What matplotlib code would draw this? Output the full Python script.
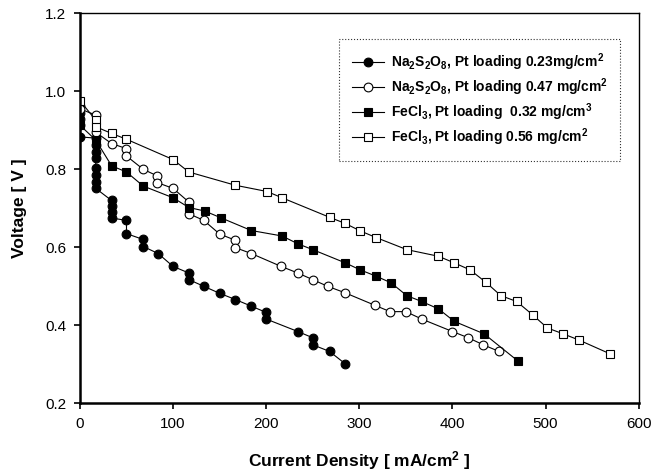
import matplotlib
matplotlib.use('Agg')
import matplotlib.pyplot as plt
from matplotlib.ticker import FormatStrFormatter

plt.rcParams['font.family'] = ['Liberation Sans', 'DejaVu Sans']
plt.rcParams['mathtext.fontset'] = 'custom'
plt.rcParams['mathtext.rm'] = 'Liberation Sans:bold'
plt.rcParams['mathtext.it'] = 'Liberation Sans:bold'
plt.rcParams['mathtext.bf'] = 'Liberation Sans:bold'

# Na2S2O8, Pt 0.23 mg/cm2 (filled circles)
na_023_x = [0, 0, 0, 0, 0, 17, 17, 17, 17, 17, 17, 17, 17, 34, 34, 34, 34,
            50, 50, 68, 68, 84, 100, 117, 117, 133, 150, 167, 184, 200, 200,
            234, 250, 250, 268, 285]
na_023_y = [0.962, 0.945, 0.93, 0.913, 0.883, 0.88, 0.862, 0.844, 0.828,
            0.803, 0.785, 0.767, 0.751, 0.72, 0.705, 0.69, 0.675,
            0.669, 0.635, 0.62, 0.602, 0.584, 0.551, 0.534, 0.517, 0.50,
            0.482, 0.466, 0.449, 0.433, 0.416, 0.384, 0.368, 0.35, 0.333, 0.301]

# Na2S2O8, Pt 0.47 mg/cm2 (open circles)
na_047_x = [0, 17, 17, 34, 50, 50, 68, 83, 83, 100, 117, 117, 133, 150, 167,
            167, 184, 216, 234, 250, 266, 285, 317, 333, 350, 367, 400, 417,
            433, 450]
na_047_y = [0.955, 0.939, 0.895, 0.866, 0.853, 0.834, 0.80, 0.783, 0.766,
            0.751, 0.716, 0.686, 0.669, 0.634, 0.618, 0.599, 0.584, 0.551,
            0.534, 0.517, 0.50, 0.483, 0.451, 0.435, 0.435, 0.416, 0.384,
            0.368, 0.35, 0.333]

# FeCl3, Pt 0.32 mg/cm3 (filled squares)
fe_032_x = [0, 17, 34, 50, 68, 100, 117, 134, 151, 184, 217, 234, 250, 285,
            301, 318, 334, 351, 367, 385, 402, 434, 470]
fe_032_y = [0.913, 0.875, 0.809, 0.793, 0.757, 0.727, 0.702, 0.693, 0.676,
            0.643, 0.629, 0.609, 0.594, 0.56, 0.542, 0.526, 0.509, 0.476,
            0.461, 0.442, 0.41, 0.378, 0.309]

# FeCl3, Pt 0.56 mg/cm2 (open squares)
fe_056_x = [0, 17, 17, 34, 50, 100, 117, 167, 201, 217, 268, 285, 301, 318,
            351, 385, 402, 419, 436, 452, 469, 486, 502, 519, 536, 569]
fe_056_y = [0.976, 0.926, 0.909, 0.892, 0.877, 0.825, 0.793, 0.759, 0.743,
            0.727, 0.677, 0.661, 0.642, 0.625, 0.594, 0.577, 0.56, 0.542,
            0.51, 0.476, 0.461, 0.427, 0.393, 0.378, 0.362, 0.327]

labels = [
    'Na$_2$S$_2$O$_8$, Pt loading 0.23mg/cm$^2$',
    'Na$_2$S$_2$O$_8$, Pt loading 0.47 mg/cm$^2$',
    'FeCl$_3$, Pt loading  0.32 mg/cm$^3$',
    'FeCl$_3$, Pt loading 0.56 mg/cm$^2$',
]

fig = plt.figure(figsize=(6.66, 4.75), dpi=100)
ax = fig.add_axes([0.120, 0.151, 0.839, 0.821])

common = dict(color='black', linewidth=0.8, markersize=6.3,
              markeredgecolor='black', markeredgewidth=0.8)
ax.plot(na_023_x, na_023_y, marker='o', markerfacecolor='black', label=labels[0], **common)
ax.plot(na_047_x, na_047_y, marker='o', markerfacecolor='white', label=labels[1], **common)
ax.plot(fe_032_x, fe_032_y, marker='s', markerfacecolor='black', label=labels[2], **common)
ax.plot(fe_056_x, fe_056_y, marker='s', markerfacecolor='white', label=labels[3], **common)

ax.set_xlim(0, 600)
ax.set_ylim(0.2, 1.2)
ax.set_xticks([0, 100, 200, 300, 400, 500, 600])
ax.set_yticks([0.2, 0.4, 0.6, 0.8, 1.0, 1.2])
ax.yaxis.set_major_formatter(FormatStrFormatter('%.1f'))
ax.tick_params(direction='out', length=4, width=1.2, labelsize=11,
               top=False, right=False, pad=6)
for side in ['left', 'bottom']:
    ax.spines[side].set_linewidth(1.8)
for side in ['top', 'right']:
    ax.spines[side].set_linewidth(1.0)

ax.set_xlabel('Current Density [ mA/cm$^2$ ]', fontsize=12.5, fontweight='bold', labelpad=13)
ax.set_ylabel('Voltage [ V ]', fontsize=12.5, fontweight='bold', labelpad=13)

leg = ax.legend(loc='upper right', bbox_to_anchor=(0.967, 0.934), frameon=True,
                fancybox=False, prop={'weight': 'bold', 'size': 10},
                handlelength=2.3, handletextpad=0.5, borderpad=0.9,
                labelspacing=0.25, borderaxespad=0)
leg.get_frame().set_edgecolor('black')
leg.get_frame().set_linewidth(0.8)
leg.get_frame().set_linestyle(':')

fig.savefig('out.png', dpi=100)
